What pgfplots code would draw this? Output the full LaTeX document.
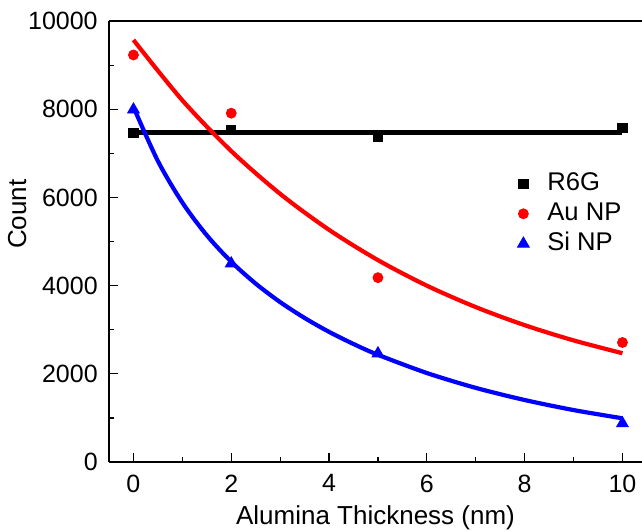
\documentclass[border=0pt]{standalone}
\usepackage{fontspec}
\setmainfont{Liberation Sans}
\usepackage{pgfplots}
\pgfplotsset{compat=1.18}
\begin{document}
\fontsize{12.5}{15}\selectfont
\begin{tikzpicture}
\begin{axis}[
  at={(0,0)}, anchor=south west,
  scale only axis, width=266.5pt, height=220.5pt,
  xmin=-0.5, xmax=10.4, ymin=0, ymax=10000,
  axis lines=left, axis line style={-, line width=0.8pt},
  clip=false,
  xtick={0,2,4,6,8,10}, minor x tick num=1,
  ytick={0,2000,4000,6000,8000,10000}, minor y tick num=1,
  tick align=inside, major tick length=4.5pt, minor tick length=2.5pt,
  tick style={black, line width=0.6pt},
  /pgf/number format/assume math mode=true,
  scaled y ticks=false,
  yticklabel style={/pgf/number format/1000 sep={}, xshift=-1.3pt},
  xticklabel style={yshift=-2pt},
  tick label style={font=\fontsize{12.5}{15}\selectfont},
  label style={font=\fontsize{13}{15}\selectfont},
  xlabel={Alumina Thickness (nm)},
  ylabel={Count},
  xlabel style={at={(axis description cs:0.5,-0.142)}, anchor=base},
  ylabel style={at={(axis description cs:-0.1557,0.562)}, anchor=base, rotate=0},
  legend style={draw=none, fill=none, at={(axis description cs:0.7467,0.667)}, anchor=north west,
    font=\fontsize{12.8}{15}\selectfont, nodes={inner sep=0pt, text height=9pt, text depth=2.5pt},
    row sep=3.5pt, column sep=0pt},
  legend cell align=left,
  legend image code/.code={\path[draw=none, fill=none] (-5pt,0pt) rectangle (12pt,0.1pt); \draw[#1] plot coordinates {(0pt,0pt)};},
]
\addplot[black, line width=2.3pt, forget plot] coordinates {(0,7475) (10,7475)};
\addplot[red, line width=2.1pt, smooth, forget plot] coordinates {
(0,9570) (1,8202) (2,7051) (3,6081) (4,5265) (5,4578) (6,3999) (7,3513) (8,3103) (9,2758) (10,2467)};
\addplot[blue, line width=2.1pt, smooth, forget plot] coordinates {
(0,8050) (0.5,6825) (1,5883) (1.5,5141) (2,4541) (2.5,4045) (3,3626) (3.5,3266) (4,2951) (4.5,2676) (5,2431) (6,2018) (7,1681) (8,1406) (9,1178) (10,991)};
\addplot[only marks, mark=square*, mark size=2.3pt, black] coordinates {(0,7460) (2,7530) (5,7370) (10,7580)};
\addlegendentry{R6G}
\addplot[only marks, mark=*, mark size=2.5pt, red] coordinates {(0,9230) (2,7910) (5,4180) (10,2710)};
\addlegendentry{Au NP}
\addplot[only marks, mark=triangle*, mark size=3.4pt, blue] coordinates {(0,7990) (2,4500) (5,2460) (10,875)};
\addlegendentry{Si NP}
\draw[line width=0.8pt] (rel axis cs:0,1) -- (rel axis cs:1,1);
\end{axis}
\pgfresetboundingbox
\path[use as bounding box] (-54.5pt,-34.5pt) rectangle (266.5pt,231pt);
\end{tikzpicture}
\end{document}
